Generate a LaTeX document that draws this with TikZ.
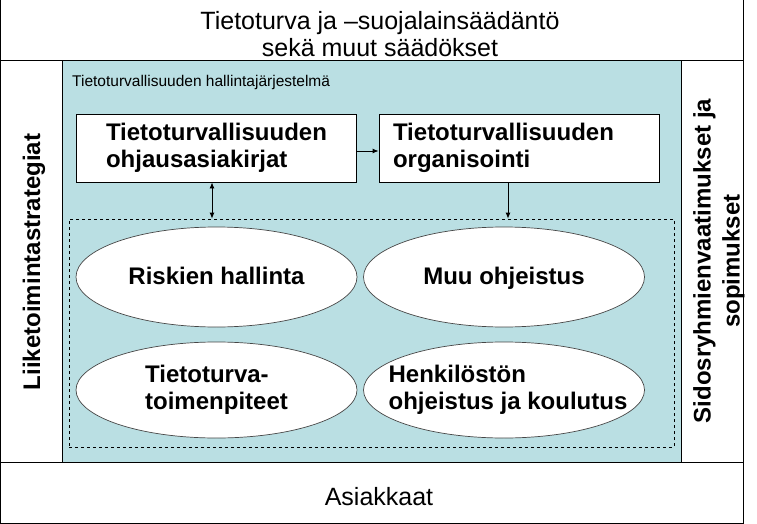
\documentclass[tikz,border=0pt]{standalone}
\usepackage{fontspec}
\setmainfont{Liberation Sans}
\usetikzlibrary{shapes.geometric,arrows.meta}
\definecolor{panelteal}{RGB}{186,223,227}
\definecolor{ellgray}{RGB}{70,70,70}
\begin{document}
\begin{tikzpicture}[x=1pt,y=-1pt,
  frameline/.style={draw=black,line width=1pt},
  bigtext/.style={font=\fontsize{25}{27.5}\selectfont,align=center,inner sep=0pt},
  boldtext/.style={font=\bfseries\fontsize{24}{27}\selectfont,inner sep=0pt},
  boxnode/.style={draw=black,line width=0.9pt,fill=white,boldtext,align=left,
    minimum height=68pt,inner ysep=0pt},
  ellnode/.style={ellipse,draw=ellgray,line width=0.7pt,fill=white,
    minimum width=281pt,inner sep=0pt},
  elltext/.style={boldtext,align=left},
  onelinetext/.style={boldtext,text height=17pt,text depth=5pt},
  arr/.style={line width=0.9pt,-{Latex[length=6pt,width=5pt]}},
  dblarr/.style={line width=0.9pt,{Latex[length=6pt,width=5pt]}-{Latex[length=6pt,width=5pt]}}
]
\useasboundingbox (0,0) rectangle (757,524);
% bands
\fill[panelteal] (62,61) rectangle (681,462);
\draw[frameline] (0,0) rectangle (743,523);
\draw[frameline] (0,61) -- (743,61);
\draw[frameline] (0,462) -- (743,462);
\draw[frameline] (62,61) -- (62,462);
\draw[frameline] (681,61) -- (681,462);
% band texts
\node[bigtext] (title) at (380,34) {Tietoturva ja –suojalainsäädäntö\\sekä muut säädökset};
\node[bigtext] (cust) at (379,497) {Asiakkaat};
\node[boldtext,rotate=90] (left) at (34,262) {Liiketoimintastrategiat};
\node[boldtext,rotate=90,align=center,font=\bfseries\fontsize{24}{29}\selectfont] (right) at (719,261) {Sidosryhmienvaatimukset ja\\sopimukset};
% system label
\node[anchor=west,inner sep=0pt,font=\fontsize{15.5}{18}\selectfont] (sys) at (72,82) {Tietoturvallisuuden hallintajärjestelmä};
% dashed area
\node[draw=black,dashed,line width=0.7pt,minimum width=605pt,minimum height=228pt,inner sep=0pt] (inner) at (371.5,333) {};
% boxes
\node[boxnode,text width=220pt,inner xsep=30pt] (box1) at (216,148) {Tietoturvallisuuden\\ohjausasiakirjat};
\node[boxnode,text width=252pt,inner xsep=14pt] (box2) at (519,148) {Tietoturvallisuuden\\organisointi};
% ellipses
\node[ellnode,minimum height=100pt] (risk) at (216.5,277) {};
\node[ellnode,minimum height=100pt] (muu) at (504,277) {};
\node[ellnode,minimum height=96pt] (toim) at (216.5,390) {};
\node[ellnode,minimum height=96pt] (henk) at (504,390) {};
\node[onelinetext] (riskt) at ([yshift=-1pt]risk.center) {Riskien hallinta};
\node[onelinetext] (muut) at ([yshift=-1pt]muu.center) {Muu ohjeistus};
\node[elltext] (toimt) at (toim.center) {Tietoturva-\\toimenpiteet};
\node[elltext] (henkt) at ([xshift=4pt]henk.center) {Henkilöstön\\ohjeistus ja koulutus};
% connectors
\draw[arr] ([yshift=-3pt]box1.east) -- ([yshift=-3pt]box2.west);
\draw[dblarr] ([xshift=-4pt]box1.south) -- ([xshift=-4pt]box1.south |- inner.north);
\draw[arr] ([xshift=-11pt]box2.south) -- ([xshift=-11pt]box2.south |- inner.north);
\end{tikzpicture}
\end{document}
